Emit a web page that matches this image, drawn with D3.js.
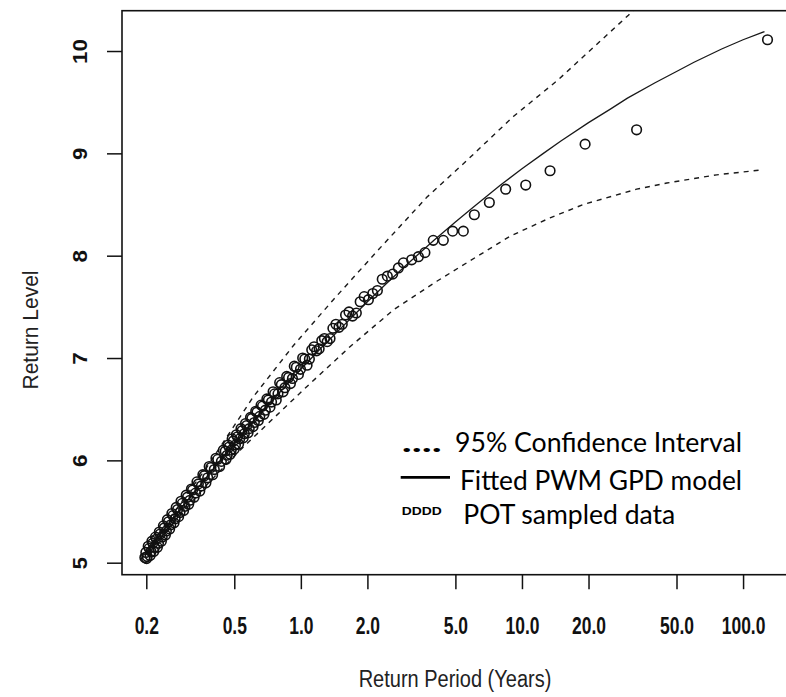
<!DOCTYPE html>
<html>
<head>
<meta charset="utf-8">
<script src="https://cdn.jsdelivr.net/npm/d3@7"></script>
<style>
  body { margin: 0; background: #ffffff; }
  svg { display: block; }
</style>
</head>
<body>
<svg id="chart" width="786" height="697"></svg>
<script>
// ---------------- DATA ----------------
const xTickValues = [0.2, 0.5, 1, 2, 5, 10, 20, 50, 100];
const yTickValues = [5, 6, 7, 8, 9, 10];

// Fitted PWM GPD model (return period in years, return level)
const fitPeriod = [0.2, 0.25, 0.3, 0.4, 0.5, 0.6, 0.8, 1, 1.25, 1.5, 2, 2.5, 3, 4, 5, 6, 8, 10, 12.5, 15, 20, 25, 30, 40, 50, 60, 80, 100, 125];
const fitLevel  = [5.10, 5.37, 5.58, 5.91, 6.16, 6.36, 6.66, 6.89, 7.11, 7.28, 7.55, 7.75, 7.91, 8.15, 8.33, 8.47, 8.69, 8.85, 9.00, 9.12, 9.30, 9.43, 9.54, 9.69, 9.80, 9.89, 10.02, 10.11, 10.19];

// 95% confidence interval, upper bound
const upperPeriod = [0.2, 0.375, 0.609, 0.924, 1.403, 2.204, 3.71, 5.63, 9.14, 14.6, 30.3, 33];
const upperLevel  = [5.12, 5.93, 6.62, 7.12, 7.57, 8.04, 8.57, 8.93, 9.36, 9.72, 10.35, 10.43];

// 95% confidence interval, lower bound
const lowerPeriod = [0.2, 0.375, 0.531, 0.751, 1.063, 1.668, 2.62, 4.12, 6.24, 8.83, 13.4, 18.95, 33.0, 45.2, 76.0, 123.5];
const lowerLevel  = [5.08, 5.76, 6.10, 6.41, 6.72, 7.11, 7.47, 7.75, 7.99, 8.19, 8.37, 8.50, 8.65, 8.71, 8.79, 8.84];

// POT sampled data (empirical return period, level)
const obsPeriod = [129, 33.0, 19.3, 13.4, 10.4, 8.44, 7.12, 6.09, 5.43, 4.86, 4.41, 3.97, 3.64, 3.40, 3.17, 2.91,
  2.761, 2.602, 2.461, 2.334, 2.219, 2.115,
  1.934, 1.782, 1.651, 1.539, 1.441, 1.355, 1.278, 1.210, 1.148, 1.093, 1.042, 0.996, 0.954, 0.916, 0.880, 0.847,
  0.816, 0.788, 0.761, 0.737, 0.713, 0.691, 0.671, 0.652, 0.633, 0.616, 0.600, 0.584, 0.569, 0.555, 0.542, 0.529,
  0.517, 0.506, 0.495, 0.484, 0.474, 0.464, 0.455, 0.437, 0.421, 0.406, 0.392, 0.379, 0.366, 0.355, 0.344, 0.334,
  0.324, 0.315, 0.307, 0.299, 0.291, 0.284, 0.277, 0.270, 0.264, 0.258, 0.252, 0.2465, 0.241, 0.236, 0.231, 0.227,
  0.222, 0.218, 0.214, 0.210, 0.206, 0.202, 0.199, 0.197];
const obsLevel = [10.11, 9.23, 9.09, 8.83, 8.69, 8.65, 8.52, 8.40, 8.24, 8.24, 8.15, 8.15, 8.03, 7.99, 7.96, 7.93,
  7.88, 7.82, 7.80, 7.77, 7.66, 7.63,
  7.60, 7.44, 7.45, 7.33, 7.33, 7.19, 7.19, 7.09, 7.11, 6.99, 6.99, 6.89, 6.91, 6.80, 6.81, 6.71,
  6.74, 6.65, 6.65, 6.57, 6.59, 6.49, 6.53, 6.43, 6.47, 6.37, 6.41, 6.31, 6.34, 6.26, 6.29, 6.21,
  6.23, 6.15, 6.19, 6.10, 6.13, 6.05, 6.09, 5.99, 6.01, 5.91, 5.93, 5.83, 5.85, 5.75, 5.77, 5.68,
  5.71, 5.61, 5.64, 5.55, 5.58, 5.49, 5.52, 5.43, 5.46, 5.37, 5.40, 5.31, 5.34, 5.25, 5.28, 5.19,
  5.23, 5.15, 5.19, 5.11, 5.14, 5.06, 5.10, 5.05];

// further POT samples inside the dense band
const obsPeriodDense = [2.021, 1.855, 1.714, 1.593, 1.488, 1.396, 1.315, 1.243, 1.178, 1.120, 1.067, 1.019, 0.975, 0.934,
  0.897, 0.863, 0.831, 0.802, 0.774, 0.749, 0.725, 0.702, 0.681, 0.661, 0.642, 0.625, 0.608, 0.592, 0.577, 0.562,
  0.549, 0.536, 0.523, 0.511, 0.500, 0.489, 0.479, 0.469, 0.459, 0.446, 0.429, 0.413, 0.399, 0.385, 0.372, 0.3605,
  0.349, 0.339, 0.329, 0.320, 0.311, 0.303, 0.295, 0.287, 0.280, 0.273, 0.267, 0.261, 0.255, 0.249, 0.244, 0.239,
  0.234, 0.229, 0.2245, 0.220, 0.216, 0.212, 0.208, 0.204, 0.2005];
const obsLevelDense = [7.57, 7.55, 7.41, 7.42, 7.30, 7.29, 7.16, 7.17, 7.07, 7.08, 6.93, 7.00, 6.84, 6.92,
  6.75, 6.82, 6.67, 6.76, 6.59, 6.67, 6.52, 6.60, 6.45, 6.54, 6.39, 6.48, 6.33, 6.42, 6.27, 6.36,
  6.22, 6.31, 6.16, 6.25, 6.11, 6.21, 6.06, 6.15, 6.01, 6.10, 5.94, 6.02, 5.86, 5.94, 5.78, 5.86,
  5.70, 5.79, 5.64, 5.72, 5.57, 5.66, 5.51, 5.60, 5.45, 5.54, 5.39, 5.48, 5.33, 5.42, 5.27, 5.36,
  5.21, 5.30, 5.15, 5.25, 5.11, 5.21, 5.07, 5.16, 5.04];

const legendLabels = ["95% Confidence Interval", "Fitted PWM GPD model", "POT sampled data"];
const legendSymbols = ["....", "DDDD"];
const xTitle = "Return Period (Years)";
const yTitle = "Return Level";

// ---------------- LAYOUT ----------------
const plot = { left: 122, right: 793, top: 10.7, bottom: 574.7 };
const svg = d3.select("#chart");

const x = d3.scaleLog().domain([0.15528, 168.2]).range([plot.left, plot.right]);
const y = d3.scaleLinear().domain([4.8827, 10.394]).range([plot.bottom, plot.top]);

svg.append("defs").append("clipPath").attr("id", "plotclip")
  .append("rect")
  .attr("x", plot.left).attr("y", plot.top)
  .attr("width", plot.right - plot.left).attr("height", plot.bottom - plot.top);

const zip = (a, b) => a.map((v, i) => [v, b[i]]);
const line = d3.line().x(d => x(d[0])).y(d => y(d[1]));

const g = svg.append("g").attr("clip-path", "url(#plotclip)");

// confidence interval
[zip(upperPeriod, upperLevel), zip(lowerPeriod, lowerLevel)].forEach(data => {
  g.append("path").datum(data)
    .attr("d", line)
    .attr("fill", "none")
    .attr("stroke", "#1a1a1a")
    .attr("stroke-width", 1.4)
    .attr("stroke-dasharray", "5,5");
});

// fitted line
g.append("path").datum(zip(fitPeriod, fitLevel))
  .attr("d", line)
  .attr("fill", "none")
  .attr("stroke", "#1a1a1a")
  .attr("stroke-width", 1.3);

// points
const obs = zip(obsPeriod, obsLevel).concat(zip(obsPeriodDense, obsLevelDense));
g.selectAll("circle.obs").data(obs).enter()
  .append("circle").attr("class", "obs")
  .attr("cx", d => x(d[0])).attr("cy", d => y(d[1]))
  .attr("r", 4.8)
  .attr("fill", "none")
  .attr("stroke", "#111")
  .attr("stroke-width", 1.6);

// box
svg.append("rect")
  .attr("x", plot.left).attr("y", plot.top)
  .attr("width", plot.right - plot.left).attr("height", plot.bottom - plot.top)
  .attr("fill", "none").attr("stroke", "#111").attr("stroke-width", 1.6);

// x axis
const xAxis = d3.axisBottom(x).tickValues(xTickValues).tickFormat(d3.format(".1f"))
  .tickSize(14.5).tickPadding(0);
const gx = svg.append("g").attr("transform", `translate(0,${plot.bottom})`).call(xAxis);
gx.select(".domain").remove();
gx.selectAll(".tick line").attr("stroke", "#111").attr("stroke-width", 1.5);
gx.selectAll(".tick text").attr("y", 48.5).attr("dy", 0)
  .attr("transform", "scale(0.92,1.22)")
  .attr("font-family", "Liberation Sans, Arial, sans-serif")
  .attr("font-weight", "bold").attr("font-size", 19).attr("fill", "#111");

// y axis
const yAxis = d3.axisLeft(y).tickValues(yTickValues).tickFormat(d3.format("d"))
  .tickSize(15).tickPadding(0);
const gy = svg.append("g").attr("transform", `translate(${plot.left},0)`).call(yAxis);
gy.select(".domain").remove();
gy.selectAll(".tick line").attr("stroke", "#111").attr("stroke-width", 1.5);
gy.selectAll(".tick text")
  .attr("x", null).attr("dy", null)
  .attr("text-anchor", "middle")
  .attr("transform", "translate(-35,0) rotate(-90) scale(1.12,1)")
  .attr("font-family", "Liberation Sans, Arial, sans-serif")
  .attr("font-weight", "bold").attr("font-size", 20).attr("fill", "#111");

// axis titles
svg.append("text")
  .attr("transform", "translate(455,687) scale(1,1.15)")
  .attr("text-anchor", "middle")
  .attr("font-family", "Liberation Sans, Arial, sans-serif")
  .attr("font-size", 20).attr("fill", "#222")
  .text(xTitle);

svg.append("text")
  .attr("transform", "translate(38,330) rotate(-90) scale(1.05,1.1)")
  .attr("text-anchor", "middle")
  .attr("font-family", "Liberation Sans, Arial, sans-serif")
  .attr("font-size", 20).attr("fill", "#222")
  .text(yTitle);

// legend
const lf = "Lato, 'Open Sans', sans-serif";
const leg = svg.append("g");
leg.append("text").attr("x", 401.7).attr("y", 451.7)
  .attr("font-family", lf).attr("font-size", 26).attr("font-weight", "bold")
  .attr("textLength", 40).attr("lengthAdjust", "spacingAndGlyphs")
  .text(legendSymbols[0]);
leg.append("text").attr("x", 455).attr("y", 451.7)
  .attr("font-family", lf).attr("font-size", 26)
  .attr("textLength", 287).attr("lengthAdjust", "spacingAndGlyphs")
  .text(legendLabels[0]);
leg.append("line").attr("x1", 400.7).attr("x2", 450).attr("y1", 477.3).attr("y2", 477.3)
  .attr("stroke", "#000").attr("stroke-width", 2.8);
leg.append("text").attr("x", 460).attr("y", 490)
  .attr("font-family", lf).attr("font-size", 26)
  .attr("textLength", 282).attr("lengthAdjust", "spacingAndGlyphs")
  .text(legendLabels[1]);
leg.append("text").attr("x", 401.7).attr("y", 515)
  .attr("font-family", "Liberation Sans, Arial, sans-serif").attr("font-size", 11).attr("font-weight", "bold")
  .attr("textLength", 40).attr("lengthAdjust", "spacingAndGlyphs")
  .text(legendSymbols[1]);
leg.append("text").attr("x", 463.3).attr("y", 524)
  .attr("font-family", lf).attr("font-size", 26)
  .attr("textLength", 212).attr("lengthAdjust", "spacingAndGlyphs")
  .text(legendLabels[2]);
</script>
</body>
</html>
